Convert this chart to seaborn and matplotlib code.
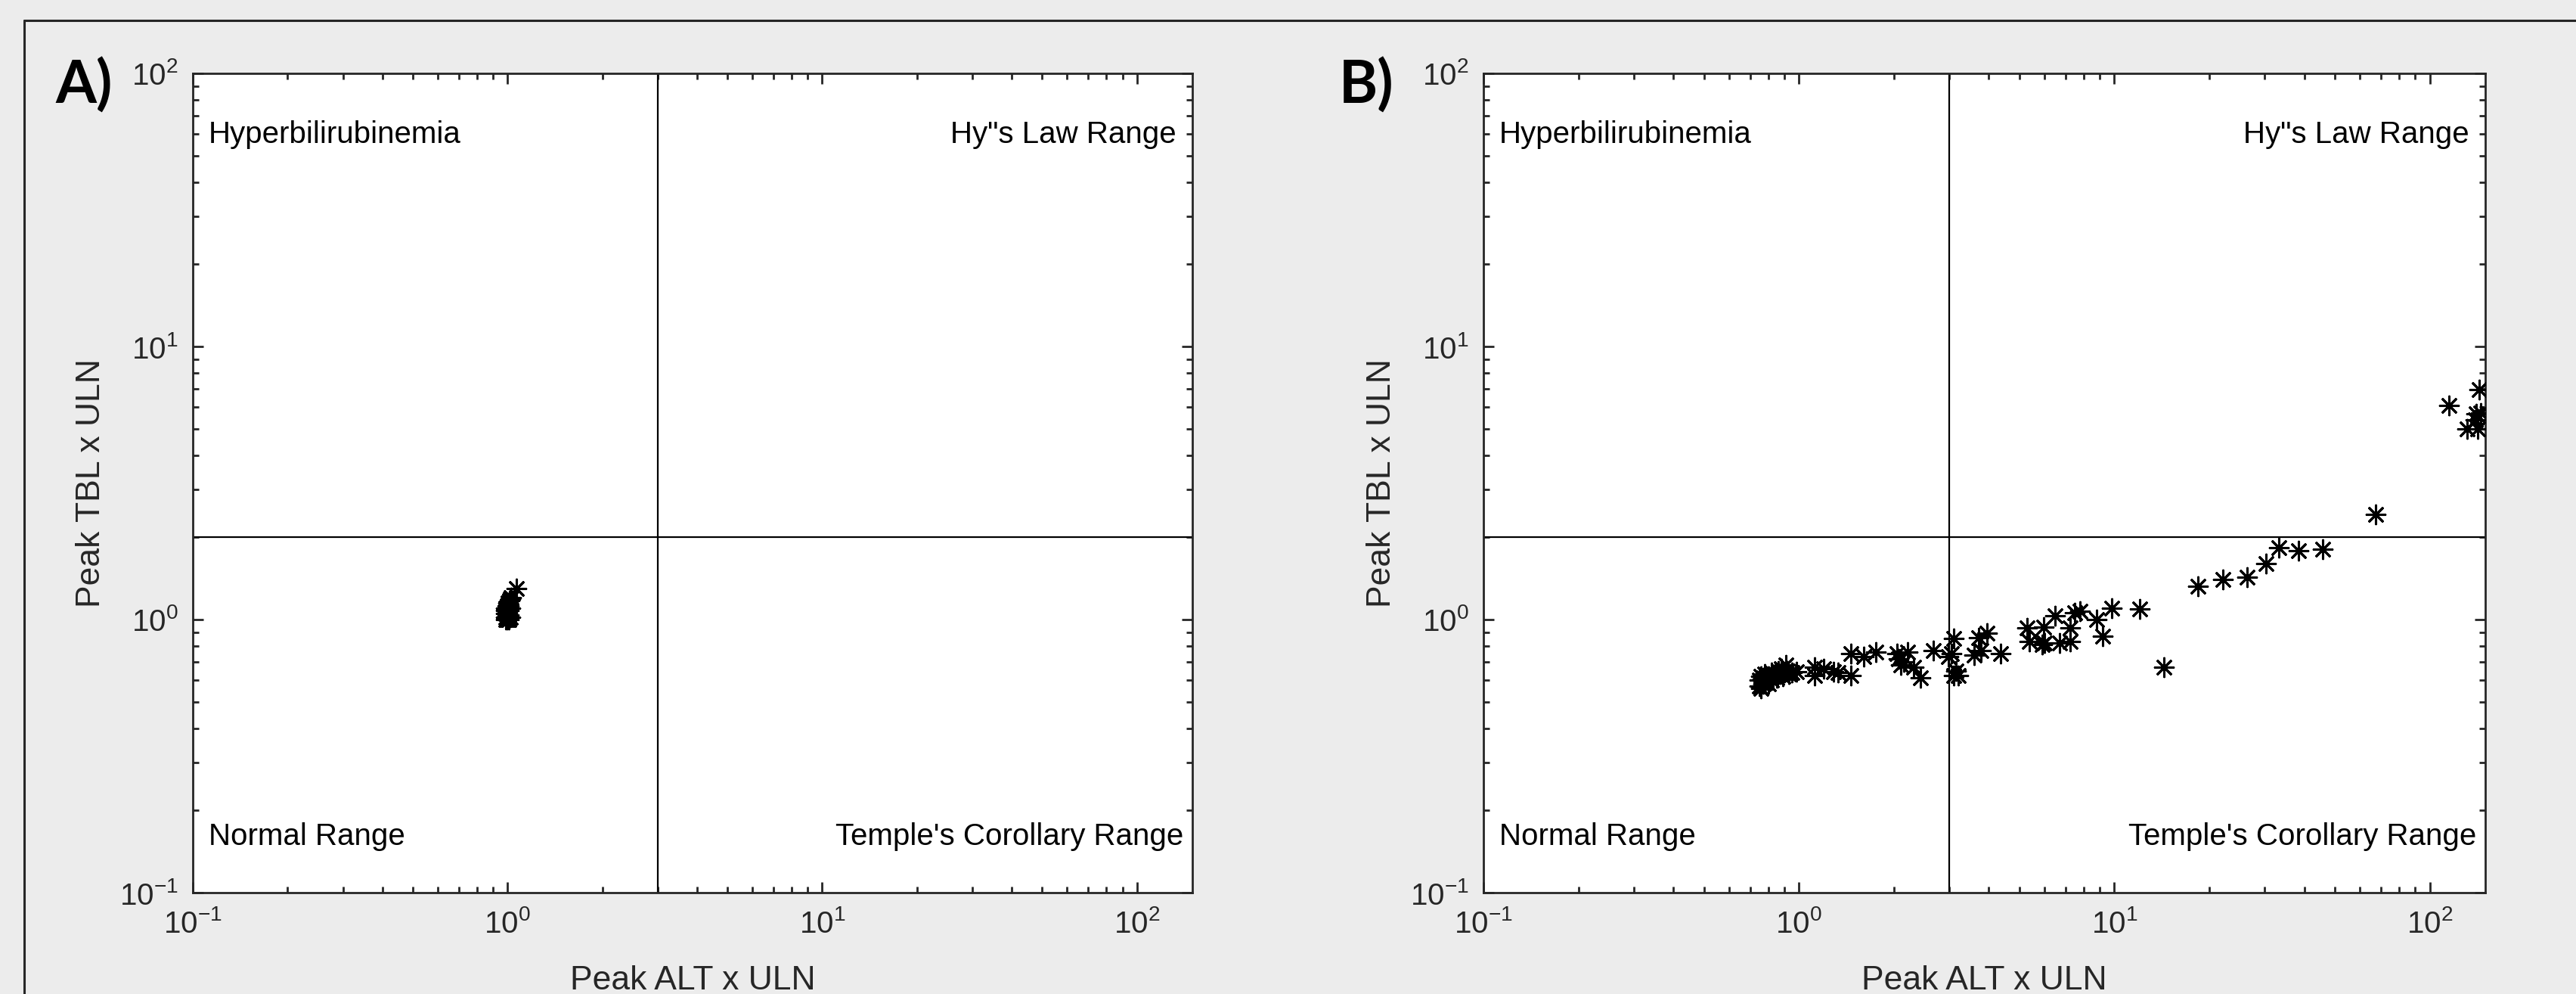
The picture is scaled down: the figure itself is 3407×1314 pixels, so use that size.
import numpy as np
import pandas as pd
import matplotlib
matplotlib.use("Agg")
import matplotlib.pyplot as plt
import seaborn as sns
from matplotlib.ticker import LogLocator, NullFormatter, LogFormatterSciNotation
from matplotlib.lines import Line2D

# ---------------- data ----------------
a_alt = [0.985, 0.99, 0.99, 0.985, 0.99, 1.0, 1.0, 1.0, 1.0, 1.0, 1.005,
         1.01, 1.01, 1.01, 1.01, 1.015, 1.02, 1.02, 1.02, 1.025, 1.07]
a_tbl = [1.00, 1.02, 1.05, 1.08, 1.10, 1.00, 1.03, 1.06, 1.09, 1.12, 1.15,
         1.00, 1.04, 1.08, 1.12, 1.17, 1.19, 1.10, 1.02, 1.20, 1.30]

b_alt = [0.75, 0.75, 0.76, 0.76, 0.77, 0.77, 0.78, 0.78, 0.79, 0.80, 0.80,
         0.81, 0.82, 0.82, 0.83, 0.84, 0.85, 0.86, 0.87, 0.88, 0.89, 0.90,
         0.91, 0.92, 0.93, 0.95,
         0.98, 1.12, 1.12, 1.20, 1.29, 1.33, 1.46, 1.46, 1.61, 1.75, 2.05,
         2.07, 2.21, 2.11, 2.15, 2.31, 2.43, 2.67, 2.98, 3.05, 3.10, 3.10,
         3.20, 3.15, 3.60, 3.78, 3.72, 3.95, 4.36, 5.30, 5.38, 5.90, 5.98,
         6.00, 6.50, 6.70, 7.25, 7.25, 7.50, 7.80, 8.80, 9.20, 9.80, 12.05,
         14.4, 18.4, 22.1, 26.4, 30.3, 33.3, 38.4, 45.8, 67.4, 115.0, 143.6,
         140.6, 145.0, 131.5, 142.0, 140.0]
b_tbl = [0.57, 0.60, 0.56, 0.62, 0.58, 0.61, 0.59, 0.63, 0.60, 0.58, 0.62,
         0.61, 0.60, 0.64, 0.62, 0.63, 0.61, 0.65, 0.63, 0.66, 0.62, 0.64,
         0.68, 0.65, 0.63, 0.64,
         0.645, 0.67, 0.625, 0.66, 0.645, 0.64, 0.75, 0.625, 0.73, 0.76, 0.75,
         0.72, 0.76, 0.68, 0.70, 0.67, 0.61, 0.77, 0.73, 0.75, 0.85, 0.625,
         0.625, 0.65, 0.74, 0.77, 0.86, 0.89, 0.75, 0.93, 0.83, 0.81, 0.94,
         0.82, 1.03, 0.82, 0.93, 0.83, 1.06, 1.07, 1.00, 0.87, 1.10, 1.09,
         0.67, 1.32, 1.40, 1.43, 1.60, 1.83, 1.79, 1.81, 2.42, 6.09, 6.96,
         5.68, 5.70, 5.00, 5.00, 5.40]

panel_labels = ["A)", "B)"]
x_label = "Peak ALT x ULN"
y_label = "Peak TBL x ULN"
quad_labels = ["Hyperbilirubinemia", 'Hy"s Law Range', "Normal Range",
               "Temple's Corollary Range"]
alt_cut = 3.0
tbl_cut = 2.0
xlim = (0.1, 150)
ylim = (0.1, 100)

# ---------------- style ----------------
sns.set_style("ticks")
W, H = 3407, 1314
DPI = 200
BG = "#ececec"
DARK = "#262626"
plt.rcParams.update({
    "font.family": ["Liberation Sans", "DejaVu Sans"],
    "mathtext.fontset": "custom",
    "mathtext.rm": "Liberation Sans",
    "mathtext.it": "Liberation Sans:italic",
    "mathtext.bf": "Liberation Sans:bold",
    "mathtext.default": "regular",
    "axes.unicode_minus": False,
    "figure.facecolor": BG,
    "axes.facecolor": "white",
    "axes.edgecolor": DARK,
    "axes.linewidth": 1.0,
    "xtick.color": DARK,
    "ytick.color": DARK,
})

fig = plt.figure(figsize=(W / DPI, H / DPI), dpi=DPI)
fig.patch.set_facecolor(BG)

# outer border (top and left visible)
fig.add_artist(Line2D([32 / W, 32 / W], [0, 1 - 27 / H], transform=fig.transFigure,
                      color=DARK, lw=1.1))
fig.add_artist(Line2D([32 / W, 1], [1 - 27 / H, 1 - 27 / H], transform=fig.transFigure,
                      color=DARK, lw=1.1))

ax_h = 1083 / H
ax_b = 134 / H
axes_pos = [(255 / W, ax_b, 1322 / W, ax_h), (1962 / W, ax_b, 1325 / W, ax_h)]
label_x = [73 / W, 1771 / W]

datasets = [pd.DataFrame({"alt": a_alt, "tbl": a_tbl}),
            pd.DataFrame({"alt": b_alt, "tbl": b_tbl})]

for i, (pos, df) in enumerate(zip(axes_pos, datasets)):
    ax = fig.add_axes(pos)
    ax.set_xscale("log")
    ax.set_yscale("log")
    ax.set_xlim(*xlim)
    ax.set_ylim(*ylim)
    ax.axvline(alt_cut, color="black", lw=0.8, zorder=1)
    ax.axhline(tbl_cut, color="black", lw=0.8, zorder=1)
    sns.scatterplot(data=df, x="alt", y="tbl", ax=ax, marker=(8, 2, 0), s=78,
                    color="black", edgecolor="black", linewidth=1.1, zorder=3,
                    legend=False)
    for axis in (ax.xaxis, ax.yaxis):
        axis.set_major_locator(LogLocator(base=10, numticks=10))
        axis.set_minor_locator(LogLocator(base=10, subs=np.arange(2, 10), numticks=20))
        axis.set_minor_formatter(NullFormatter())
        axis.set_major_formatter(LogFormatterSciNotation())
    ax.tick_params(which="both", direction="in", top=True, right=True,
                   width=1.0, labelsize=14.5, labelcolor=DARK)
    ax.tick_params(which="major", length=5)
    ax.tick_params(which="minor", length=2.8)
    ax.tick_params(axis="x", which="major", pad=8)
    ax.tick_params(axis="y", which="major", pad=7)
    for sp in ax.spines.values():
        sp.set_visible(True)
        sp.set_color(DARK)
        sp.set_linewidth(1.0)
    ax.set_xlabel(x_label, fontsize=16, color=DARK)
    ax.set_ylabel(y_label, fontsize=16, color=DARK)
    ax.xaxis.set_label_coords(0.5, -0.089)
    ax.yaxis.set_label_coords(-0.086, 0.5)

    fs = 14.5
    ax.text(0.016, 0.925, quad_labels[0], transform=ax.transAxes, ha="left",
            va="center", fontsize=fs, color="black")
    ax.text(0.984, 0.925, quad_labels[1], transform=ax.transAxes, ha="right",
            va="center", fontsize=fs, color="black")
    ax.text(0.016, 0.068, quad_labels[2], transform=ax.transAxes, ha="left",
            va="center", fontsize=fs, color="black")
    ax.text(0.991, 0.068, quad_labels[3], transform=ax.transAxes, ha="right",
            va="center", fontsize=fs, color="black")

    fig.text(label_x[i], 1 - 113 / H, panel_labels[i], ha="left", va="center",
             fontsize=28, fontweight="bold", family=["Lato", "DejaVu Sans"],
             color="black")

fig.savefig("out.png", dpi=DPI, facecolor=BG)
